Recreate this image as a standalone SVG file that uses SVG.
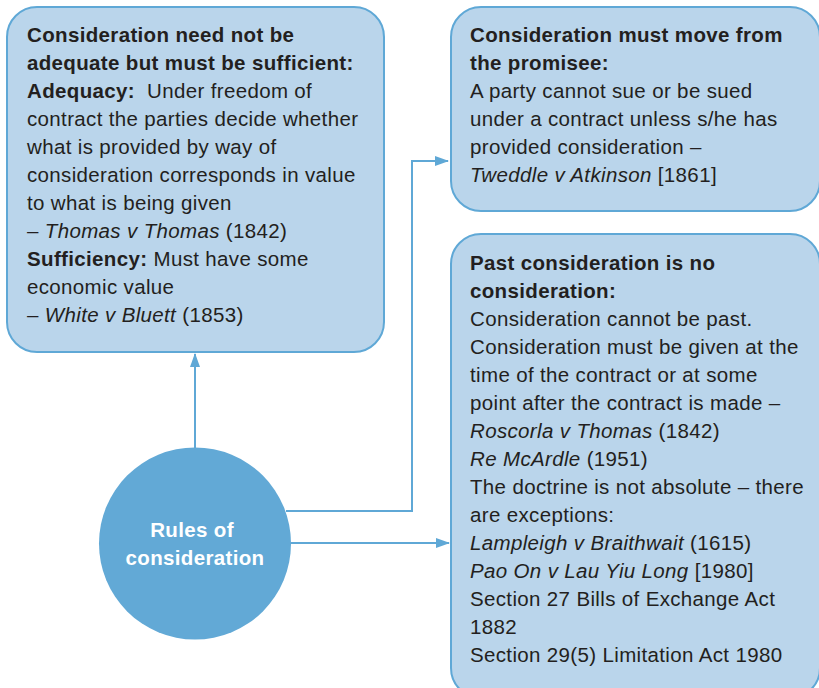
<svg xmlns="http://www.w3.org/2000/svg" width="819" height="688" viewBox="0 0 819 688">
  <style>
    .box { fill: #bad5eb; stroke: #5fa8d6; stroke-width: 2; }
    .txt { font-family: "Liberation Sans", Arial, sans-serif; font-size: 20.5px; letter-spacing: 0.35px; fill: #231f20; }
    .b { font-weight: bold; }
    .i { font-style: italic; }
    .conn { fill: none; stroke: #5fa8d6; stroke-width: 2; }
    .hub { fill: #62a9d6; }
    .hubtxt { font-family: "Liberation Sans", Arial, sans-serif; font-size: 20.5px; letter-spacing: 0.35px; font-weight: bold; fill: #ffffff; text-anchor: middle; }
  </style>
  <defs>
    <marker id="arrow" viewBox="0 0 14 10" refX="13" refY="5" markerWidth="14" markerHeight="10" markerUnits="userSpaceOnUse" orient="auto">
      <path d="M0,0 L14,5 L0,10 Z" fill="#5fa8d6"/>
    </marker>
  </defs>
  <rect width="819" height="688" fill="#ffffff"/>

  <g id="connectors">
    <path class="conn" d="M195,448 L195,354" marker-end="url(#arrow)"/>
    <path class="conn" d="M286,511 L412,511 L412,161 L448,161" marker-end="url(#arrow)"/>
    <path class="conn" d="M291,543 L449,543" marker-end="url(#arrow)"/>
  </g>

  <g id="adequacy">
    <rect class="box" x="7" y="7" width="377" height="345" rx="30" ry="30"/>
    <text class="txt" x="27">
      <tspan class="b" x="27" y="42">Consideration need not be</tspan>
      <tspan class="b" x="27" y="70">adequate but must be sufficient:</tspan>
      <tspan x="27" y="98"><tspan class="b">Adequacy:</tspan>&#160; Under freedom of</tspan>
      <tspan x="27" y="126">contract the parties decide whether</tspan>
      <tspan x="27" y="154">what is provided by way of</tspan>
      <tspan x="27" y="182">consideration corresponds in value</tspan>
      <tspan x="27" y="210">to what is being given</tspan>
      <tspan x="27" y="238">– <tspan class="i">Thomas v Thomas</tspan> (1842)</tspan>
      <tspan x="27" y="266"><tspan class="b">Sufficiency:</tspan> Must have some</tspan>
      <tspan x="27" y="294">economic value</tspan>
      <tspan x="27" y="322">– <tspan class="i">White v Bluett</tspan> (1853)</tspan>
    </text>
  </g>

  <g id="promisee">
    <rect class="box" x="451" y="7" width="369" height="204" rx="30" ry="30"/>
    <text class="txt">
      <tspan class="b" x="470" y="42">Consideration must move from</tspan>
      <tspan class="b" x="470" y="70">the promisee:</tspan>
      <tspan x="470" y="98">A party cannot sue or be sued</tspan>
      <tspan x="470" y="126">under a contract unless s/he has</tspan>
      <tspan x="470" y="154">provided consideration –</tspan>
      <tspan x="470" y="182"><tspan class="i">Tweddle v Atkinson</tspan> [1861]</tspan>
    </text>
  </g>

  <g id="past">
    <rect class="box" x="451" y="234" width="369" height="464" rx="30" ry="30"/>
    <text class="txt">
      <tspan class="b" x="470" y="270">Past consideration is no</tspan>
      <tspan class="b" x="470" y="298">consideration:</tspan>
      <tspan x="470" y="326">Consideration cannot be past.</tspan>
      <tspan x="470" y="354">Consideration must be given at the</tspan>
      <tspan x="470" y="382">time of the contract or at some</tspan>
      <tspan x="470" y="410">point after the contract is made –</tspan>
      <tspan x="470" y="438"><tspan class="i">Roscorla v Thomas</tspan> (1842)</tspan>
      <tspan x="470" y="466"><tspan class="i">Re McArdle</tspan> (1951)</tspan>
      <tspan x="470" y="494">The doctrine is not absolute – there</tspan>
      <tspan x="470" y="522">are exceptions:</tspan>
      <tspan x="470" y="550"><tspan class="i">Lampleigh v Braithwait</tspan> (1615)</tspan>
      <tspan x="470" y="578"><tspan class="i">Pao On v Lau Yiu Long</tspan> [1980]</tspan>
      <tspan x="470" y="606">Section 27 Bills of Exchange Act</tspan>
      <tspan x="470" y="634">1882</tspan>
      <tspan x="470" y="662">Section 29(5) Limitation Act 1980</tspan>
    </text>
  </g>

  <g id="rules">
    <circle class="hub" cx="195" cy="543.5" r="96"/>
    <text class="hubtxt">
      <tspan x="195" y="537">Rules of</tspan>
      <tspan x="195" y="565">consideration</tspan>
    </text>
  </g>
</svg>
